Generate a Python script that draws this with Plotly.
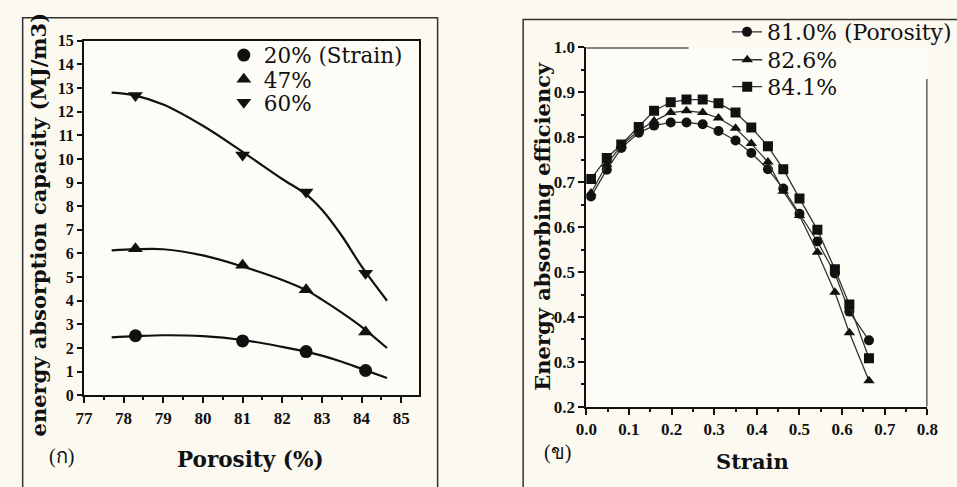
import plotly.graph_objects as go

W, H = 957, 487

# ---------------- panel (ก): energy absorption capacity vs porosity ----------------
porosity = [78.3, 81.0, 82.6, 84.1]
cap_strain20 = [2.52, 2.30, 1.85, 1.05]
cap_strain47 = [6.20, 5.50, 4.47, 2.68]
cap_strain60 = [12.68, 10.17, 8.60, 5.16]

# fitted trend curves
fit_porosity = [77.7, 78.3, 79.0, 80.0, 81.0, 82.0, 82.6, 83.0, 83.5, 84.0, 84.64]
fit_strain20 = [2.45, 2.50, 2.54, 2.50, 2.34, 2.05, 1.85, 1.68, 1.42, 1.12, 0.73]
fit_strain47 = [6.13, 6.18, 6.18, 5.92, 5.45, 4.88, 4.45, 4.05, 3.50, 2.90, 2.00]
fit_strain60 = [12.80, 12.68, 12.30, 11.40, 10.30, 9.15, 8.50, 7.85, 6.75, 5.45, 4.00]

# ---------------- panel (ข): energy absorbing efficiency vs strain ----------------
strain = [0.011, 0.048, 0.082, 0.123, 0.159, 0.198, 0.235, 0.273, 0.310, 0.350,
          0.387, 0.426, 0.462, 0.500, 0.542, 0.583, 0.617, 0.663]
eff_810 = [0.668, 0.728, 0.776, 0.810, 0.826, 0.833, 0.833, 0.829, 0.814, 0.793,
           0.765, 0.729, 0.686, 0.630, 0.568, 0.497, 0.412, 0.348]
eff_826 = [0.676, 0.740, 0.782, 0.815, 0.836, 0.855, 0.859, 0.855, 0.843, 0.820,
           0.786, 0.745, 0.680, 0.626, 0.544, 0.455, 0.365, 0.258]
eff_841 = [0.707, 0.754, 0.784, 0.823, 0.859, 0.878, 0.884, 0.884, 0.876, 0.855,
           0.822, 0.780, 0.729, 0.664, 0.594, 0.506, 0.428, 0.308]

left_x_ticks = [77, 78, 79, 80, 81, 82, 83, 84, 85]
left_y_ticks = list(range(0, 16))
right_x_ticks = [0.0, 0.1, 0.2, 0.3, 0.4, 0.5, 0.6, 0.7, 0.8]
right_y_ticks = [0.2, 0.3, 0.4, 0.5, 0.6, 0.7, 0.8, 0.9, 1.0]


def px(x):
    return x / W


def py(y):
    return 1 - y / H


SERIF = "Liberation Serif"
WIDE_SERIF = "DejaVu Serif"
INK = "#111111"


def bold(vals, fmt):
    return [f"<b>{fmt.format(v)}</b>" for v in vals]


fig = go.Figure()

# panel (ก) markers, each with its own legend row, and the fitted curves
left_series = [("20% (Strain)", cap_strain20, "circle", "legend", 48),
               ("47%", cap_strain47, "triangle-up", "legend3", 73),
               ("60%", cap_strain60, "triangle-down", "legend4", 97)]
for name, ys, sym, leg, _ in left_series:
    fig.add_trace(go.Scatter(x=porosity, y=ys, mode="markers", name=name,
                             marker=dict(symbol=sym, size=13, color=INK),
                             xaxis="x", yaxis="y", legend=leg))
for ys in [fit_strain20, fit_strain47, fit_strain60]:
    fig.add_trace(go.Scatter(x=fit_porosity, y=ys, mode="lines", showlegend=False,
                             line=dict(color=INK, width=2.2, shape="spline", smoothing=1.0),
                             xaxis="x", yaxis="y", hoverinfo="skip"))

# panel (ข) efficiency curves
right_series = [("81.0% (Porosity)", eff_810, "circle", "legend2", 24),
                ("82.6%", eff_826, "triangle-up", "legend5", 53),
                ("84.1%", eff_841, "square", "legend6", 81)]
for name, ys, sym, leg, _ in right_series:
    fig.add_trace(go.Scatter(x=strain, y=ys, mode="lines+markers", name=name,
                             marker=dict(symbol=sym, size=10, color=INK),
                             line=dict(color="#333333", width=1.3),
                             xaxis="x2", yaxis="y2", legend=leg))

tickfont = dict(family=SERIF, size=17, color=INK)

legends = {}
for _, _, _, leg, y in left_series:
    legends[leg] = dict(x=px(219), y=py(y), xanchor="left", yanchor="middle",
                        bgcolor="rgba(0,0,0,0)", borderwidth=0,
                        font=dict(family=WIDE_SERIF, size=21.5, color=INK),
                        itemclick=False)
for _, _, _, leg, y in right_series:
    legends[leg] = dict(x=px(737), y=py(y), xanchor="left", yanchor="middle",
                        bgcolor="rgba(0,0,0,0)", borderwidth=0,
                        font=dict(family=WIDE_SERIF, size=22, color=INK),
                        itemclick=False)

fig.update_layout(
    width=W, height=H,
    margin=dict(l=0, r=0, t=0, b=0),
    paper_bgcolor="#fcf9f1",
    plot_bgcolor="#fefcf6",
    font=dict(family=SERIF, color=INK),
    xaxis=dict(domain=[px(75), px(420)], range=[77, 85.45], anchor="y",
               tickvals=left_x_ticks, ticktext=bold(left_x_ticks, "{}"),
               ticks="outside", ticklen=6, tickwidth=1.5,
               tickcolor=INK, showline=True, linewidth=2, linecolor=INK, mirror=True,
               showgrid=False, zeroline=False, tickfont=tickfont,
               minor=dict(dtick=0.5, ticks="outside", ticklen=3, tickcolor=INK)),
    yaxis=dict(domain=[py(402), py(33)], range=[0, 15], anchor="x",
               tickvals=left_y_ticks, ticktext=bold(left_y_ticks, "{}"),
               ticks="outside", ticklen=5, tickwidth=1.5,
               tickcolor=INK, showline=True, linewidth=2, linecolor=INK, mirror=True,
               showgrid=False, zeroline=False,
               tickfont=dict(family=SERIF, size=16, color=INK)),
    xaxis2=dict(domain=[px(592), px(943)], range=[0, 0.8], anchor="y2",
                tickvals=right_x_ticks, ticktext=bold(right_x_ticks, "{:.1f}"),
                ticks="outside", ticklen=6, tickwidth=1.5, tickcolor=INK,
                showline=True, linewidth=2, linecolor=INK, showgrid=False,
                zeroline=False, tickfont=tickfont,
                minor=dict(dtick=0.05, ticks="outside", ticklen=3, tickcolor=INK)),
    yaxis2=dict(domain=[py(414), py(40)], range=[0.2, 1.0], anchor="x2",
                tickvals=right_y_ticks, ticktext=bold(right_y_ticks, "{:.1f}"),
                ticks="outside", ticklen=6, tickwidth=1.5, tickcolor=INK,
                showline=True, linewidth=2, linecolor=INK, showgrid=False,
                zeroline=False, tickfont=tickfont,
                minor=dict(dtick=0.05, ticks="outside", ticklen=3, tickcolor=INK)),
    showlegend=True,
    **legends,
)

# outer panel frames
fig.add_shape(type="rect", xref="paper", yref="paper",
              x0=px(12), x1=px(439), y0=-0.05, y1=py(9),
              line=dict(color="#333333", width=1.5))
fig.add_shape(type="rect", xref="paper", yref="paper",
              x0=px(527), x1=1.05, y0=-0.05, y1=py(11),
              line=dict(color="#333333", width=1.5))

# partial top and right frame lines of panel (ข)
fig.add_shape(type="line", xref="x2", yref="y2", x0=-0.015, x1=0.24, y0=1.0, y1=1.0,
              line=dict(color=INK, width=2))
fig.add_shape(type="line", xref="x2", yref="y2", x0=0.8, x1=0.8, y0=0.2, y1=0.93,
              line=dict(color=INK, width=2))


# axis titles and panel labels
def label(text, x, y, size, angle=0, family=WIDE_SERIF):
    fig.add_annotation(text=text, textangle=angle, xref="paper", yref="paper",
                       x=px(x), y=py(y), xanchor="center", yanchor="middle",
                       showarrow=False, font=dict(family=family, size=size, color=INK))


label("<b>energy absorption capacity (MJ/m3)</b>", 28, 224, 21, angle=-90)
label("<b>Porosity (%)</b>", 246, 469, 21.5)
label("(ก)", 52, 466, 20, family=SERIF)
label("<b>Energy absorbing efficiency</b>", 547, 226, 21, angle=-90)
label("<b>Strain</b>", 763, 471, 21)
label("(ข)", 562, 462, 20, family=SERIF)

fig.write_html("out.html")
